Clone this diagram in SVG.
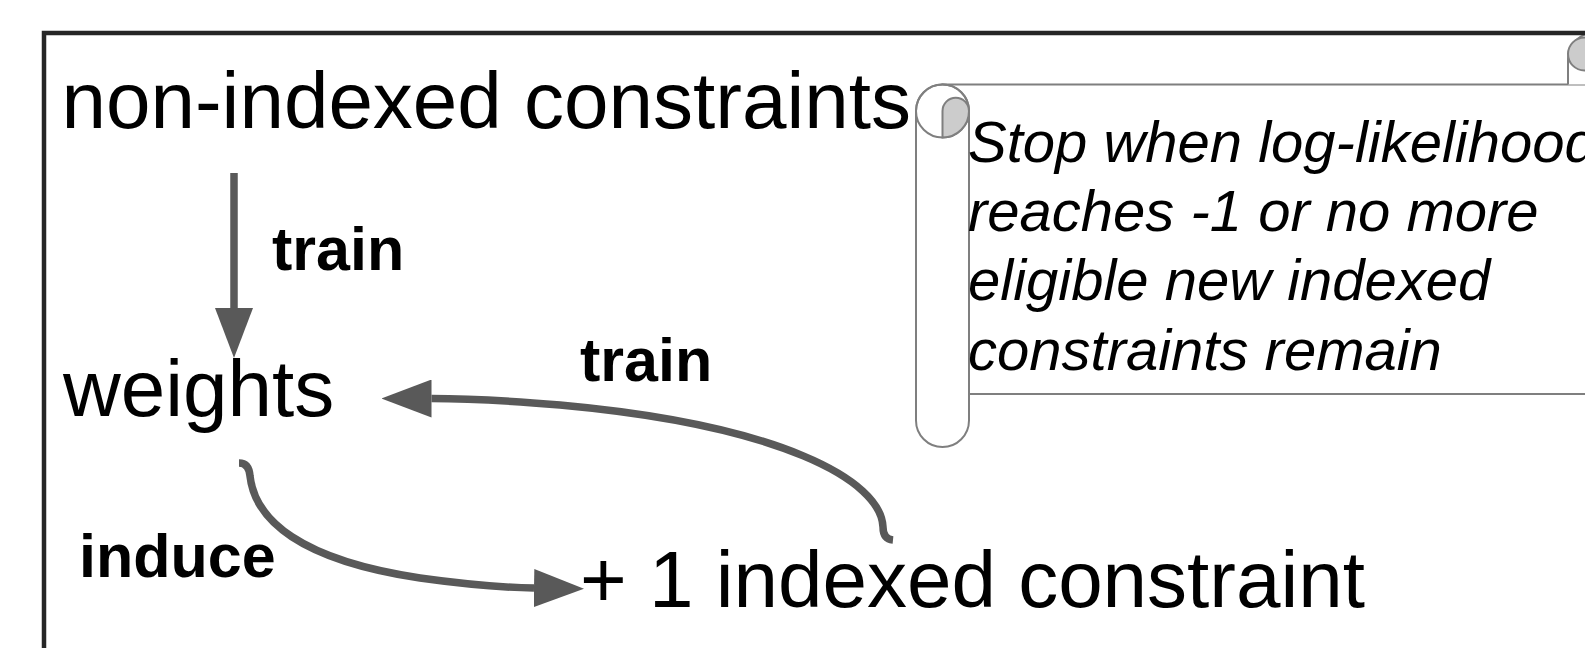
<svg xmlns="http://www.w3.org/2000/svg" width="1585" height="648" viewBox="0 0 1585 648">
  <style>
    .big { font-family: "Liberation Sans", Arial, sans-serif; font-size: 80px; fill: #000; }
    .lbl { font-family: "Liberation Sans", Arial, sans-serif; font-size: 61px; font-weight: bold; fill: #000; }
    .note { font-family: "Liberation Sans", Arial, sans-serif; font-size: 58px; font-style: italic; fill: #000; }
    .edge { fill: none; stroke: #595959; stroke-width: 7.5; }
    .scroll { fill: #fff; stroke: #7f7f7f; stroke-width: 2; }
    .curl { fill: #cccccc; stroke: #7f7f7f; stroke-width: 2; }
  </style>
  <defs>
    <marker id="head" markerUnits="userSpaceOnUse" viewBox="0 0 50 38" markerWidth="50" markerHeight="38" refX="0" refY="19" orient="auto">
      <path d="M0,0 L50,19 L0,38 Z" fill="#595959"/>
    </marker>
  </defs>
  <rect width="1585" height="648" fill="#fff"/>

  <g id="note">
    <rect class="scroll" x="942.5" y="84.5" width="700" height="309.5"/>
    <path class="scroll" d="M1568 84.5 V59 A26 26 0 0 1 1620 59 V84.5"/>
    <circle class="curl" cx="1584.5" cy="54" r="16.5"/>
    <path class="scroll" d="M916 111 V420.5 A26.5 26.5 0 0 0 969 420.5 V111 A26.5 26.5 0 0 0 916 111 Z"/>
    <circle cx="942.5" cy="111" r="26.5" fill="none" stroke="#7f7f7f" stroke-width="2"/>
    <path class="curl" d="M942.5 111 A13.25 13.25 0 0 1 969 111 A26.5 26.5 0 0 1 942.5 137.5 Z"/>
    <text class="note" x="968" y="162">Stop when log-likelihood</text>
    <text class="note" x="968" y="231">reaches -1 or no more</text>
    <text class="note" x="968" y="300">eligible new indexed</text>
    <text class="note" x="968" y="370">constraints remain</text>
  </g>

  <g id="n_nonindexed">
    <text class="big" x="61.5" y="128">non-indexed constraints</text>
  </g>
  <g id="n_weights">
    <text class="big" x="63" y="416">weights</text>
  </g>
  <g id="n_indexed">
    <text class="big" x="580" y="607">+ 1 indexed constraint</text>
  </g>

  <g id="connectors">
    <path class="edge" d="M234 173 V308" marker-end="url(#head)"/>
    <path class="edge" d="M893 540 Q883 539 883 527 C881 480 780 425 560 405 C500 400 460 398.5 431.5 398.5" marker-end="url(#head)"/>
    <path class="edge" d="M239 463 Q249 463 250 476 C255 520 300 560 420 578 C470 585 505 587.5 534 588" marker-end="url(#head)"/>
    <text class="lbl" x="272" y="270">train</text>
    <text class="lbl" x="580" y="381">train</text>
    <text class="lbl" x="79" y="577">induce</text>
  </g>

  <g id="frame">
    <rect x="44" y="33" width="1600" height="700" fill="none" stroke="#262626" stroke-width="4.5"/>
  </g>
</svg>
